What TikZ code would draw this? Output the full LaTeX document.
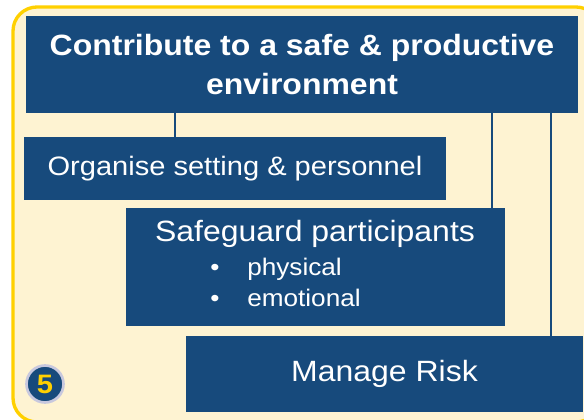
\documentclass[tikz,border=0pt]{standalone}
\usepackage{fontspec}
\setmainfont[FakeStretch=1.09]{Liberation Sans}

\definecolor{boxblue}{RGB}{23,74,124}
\definecolor{cream}{RGB}{254,243,210}
\definecolor{frameyellow}{RGB}{255,208,0}
\definecolor{ringgrey}{RGB}{200,200,222}

\newcommand{\pxu}{0.75pt}

\tikzset{
  box/.style={fill=boxblue, text=white, inner sep=0pt},
  branch/.style={draw=boxblue, line width=1.5pt},
  bullet item/.style={text=white, inner sep=0pt, anchor=base west,
    font=\fontsize{18}{22}\selectfont},
}

\begin{document}
\begin{tikzpicture}[x=0.75pt, y=-0.75pt]
  \useasboundingbox (0,0) rectangle (584,420);
  \clip (0,0) rectangle (584,420);

  % panel
  \draw[frameyellow, fill=cream, line width=2.5pt, rounded corners=18pt]
    (13,7) rectangle (600,422);

  % Goal
  \node[box, minimum width=552*\pxu, minimum height=97*\pxu, align=center,
    font=\fontsize{22}{29.25}\selectfont\bfseries] (goal) at (302,64.5)
    {Contribute to a safe \& productive\\environment};

  % Tasks
  \node[box, minimum width=422*\pxu, minimum height=63*\pxu,
    font=\fontsize{20}{24}\selectfont] (org) at (235,168.5)
    {Organise setting \& personnel};
  \node[box, minimum width=379*\pxu, minimum height=118*\pxu] (safe) at (315.5,267) {};
  \node[text=white, inner sep=0pt, anchor=base, font=\fontsize{22}{26}\selectfont]
    (safehead) at (315,241) {Safeguard participants};
  \node[bullet item] (phys) at (210,275) {\makebox[27.75pt][l]{\textbullet}physical};
  \node[bullet item] (emot) at (210,306) {\makebox[27.75pt][l]{\textbullet}emotional};
  \node[box, minimum width=397*\pxu, minimum height=76*\pxu,
    font=\fontsize{22}{26}\selectfont] (risk) at (384.5,374) {Manage Risk};

  % branches
  \coordinate (tap1) at (175,0);
  \coordinate (tap2) at (492,0);
  \coordinate (tap3) at (551,0);
  \draw[branch] (goal.south -| tap1) -- (org.north -| tap1);
  \draw[branch] (goal.south -| tap2) -- (safe.north -| tap2);
  \draw[branch] (goal.south -| tap3) -- (risk.north -| tap3);

  % badge
  \node[circle, fill=boxblue, draw=ringgrey, line width=2pt, minimum size=37*\pxu,
    inner sep=0pt, text=frameyellow, font=\fontsize{20}{20}\selectfont\bfseries]
    (badge) at (45,384) {5};
\end{tikzpicture}
\end{document}
